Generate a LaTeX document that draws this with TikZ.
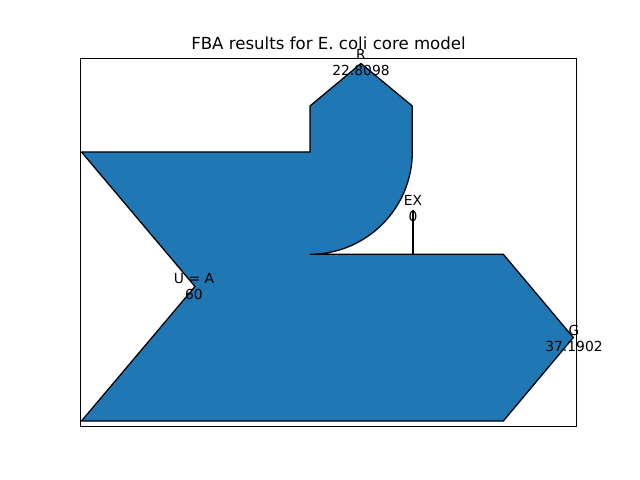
\documentclass[tikz,border=0pt]{standalone}
\usepackage{fontspec}
\setmainfont{DejaVu Sans}
\definecolor{c0}{HTML}{1F77B4}
\begin{document}
\begin{tikzpicture}[x=1bp,y=-1bp,
  lbl/.style={align=center,inner sep=0pt,font=\fontsize{13.9}{16}\selectfont},
  flow/.style={fill=c0,draw=black,line width=1.3bp,line join=miter}]
\useasboundingbox (0,0) rectangle (640,480);
\fill[white] (0,0) rectangle (640,480);
\node[anchor=base,inner sep=0pt,font=\fontsize{16.67}{20}\selectfont] (title) at (328.5,49.5) {FBA results for E. coli core model};
\draw[line width=1bp] (80.7,58.3) rectangle (576.5,426.8);
\filldraw[flow] (81.5,152) -- (310,152) -- (310,106) -- (361,63.5) -- (412.3,106) -- (412.3,152)
  .. controls (412.3,208.3) and (366.3,254.3) .. (310,254.3)
  -- (503.3,254.3) -- (573.3,337.5) -- (503.3,421) -- (81.5,421) -- (195,286.5) -- cycle;
\coordinate (exbase) at (413,254.3);
\coordinate (extip) at (413,210);
\draw[line width=1.3bp] (exbase) -- (extip);
\node[lbl] (R) at (361,63) {R\\22.8098};
\node[lbl] (EX) at (413,209) {EX\\0};
\node[lbl] (U) at (194,287) {U = A\\60};
\node[lbl] (G) at (574,338.5) {G\\37.1902};
\end{tikzpicture}
\end{document}
